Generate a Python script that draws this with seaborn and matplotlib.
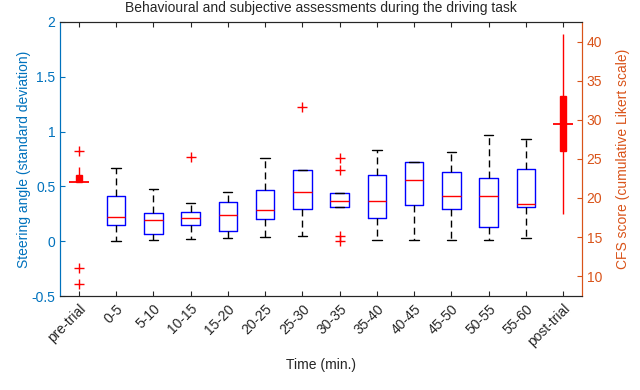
import numpy as np
import pandas as pd
import matplotlib
matplotlib.use("Agg")
import matplotlib.pyplot as plt
import matplotlib.ticker as mticker
import matplotlib.transforms as mtransforms
import seaborn as sns

TIME_BINS = ["pre-trial", "0-5", "5-10", "10-15", "15-20", "20-25", "25-30",
             "30-35", "35-40", "40-45", "45-50", "50-55", "55-60", "post-trial"]

# steering angle SD per 5-min bin
DRIVE_BINS = TIME_BINS[1:-1]
steer_low  = [0.00, 0.01, 0.02, 0.03, 0.035, 0.045, 0.31, 0.01, 0.01, 0.01, 0.015, 0.03]
steer_q1   = [0.145, 0.065, 0.15, 0.095, 0.20, 0.295, 0.31, 0.215, 0.33, 0.295, 0.125, 0.31]
steer_med  = [0.225, 0.195, 0.21, 0.24, 0.285, 0.445, 0.365, 0.365, 0.555, 0.41, 0.41, 0.335]
steer_q3   = [0.41, 0.255, 0.265, 0.355, 0.47, 0.645, 0.44, 0.605, 0.72, 0.63, 0.575, 0.66]
steer_high = [0.665, 0.48, 0.35, 0.445, 0.755, 0.645, 0.44, 0.83, 0.72, 0.81, 0.97, 0.935]

steer_out_bin = ["10-15", "25-30", "30-35", "30-35", "30-35", "30-35"]
steer_out_val = [0.765, 1.22, 0.755, 0.645, 0.045, 0.0]

# CFS questionnaire before / after the drive
CFS_BINS = ["pre-trial", "post-trial"]
cfs_low  = [22, 18]
cfs_q1   = [22, 26]
cfs_med  = [22, 29.5]
cfs_q3   = [23, 33]
cfs_high = [24, 41]

cfs_out_bin = ["pre-trial", "pre-trial", "pre-trial"]
cfs_out_val = [26, 11, 9]

LEFT_C  = "#0072BD"
RIGHT_C = "#D95319"
AX_C    = "#262626"


def five_number_frame(bins, *cols):
    # five points per bin -> quartiles land exactly on q1/median/q3 (linear percentiles)
    vals = np.column_stack(cols).ravel()
    return pd.DataFrame({"bin": np.repeat(bins, len(cols)), "value": vals})


sns.set_style("ticks")
plt.rcParams["font.family"] = ["Liberation Sans", "DejaVu Sans"]
plt.rcParams["font.size"] = 10

fig, ax = plt.subplots(figsize=(6.4, 3.9), dpi=100)
fig.subplots_adjust(left=0.094, right=0.909, top=0.944, bottom=0.241)
ax2 = ax.twinx()

steer_df = five_number_frame(DRIVE_BINS, steer_low, steer_q1, steer_med, steer_q3, steer_high)
sns.boxplot(data=steer_df, x="bin", y="value", order=TIME_BINS, whis=np.inf,
            width=0.5, fill=False, linewidth=1, ax=ax,
            boxprops=dict(color="blue"),
            medianprops=dict(color="red"),
            whiskerprops=dict(color="black", linestyle=(0, (5, 3))),
            capprops=dict(color="black"))
sns.stripplot(x=steer_out_bin, y=steer_out_val, order=TIME_BINS, jitter=False,
              marker="+", color="red", size=7, linewidth=1, ax=ax)

cfs_df = five_number_frame(CFS_BINS, cfs_low, cfs_q1, cfs_med, cfs_q3, cfs_high)
sns.boxplot(data=cfs_df, x="bin", y="value", order=TIME_BINS, whis=np.inf,
            width=0.16, fill=True, color="red", linecolor="red", saturation=1,
            linewidth=1, ax=ax2,
            medianprops=dict(visible=False),
            capprops=dict(visible=False))
sns.stripplot(x=CFS_BINS, y=cfs_med, order=TIME_BINS, jitter=False,
              marker="_", color="red", size=14, linewidth=1.3, ax=ax2)
sns.stripplot(x=cfs_out_bin, y=cfs_out_val, order=TIME_BINS, jitter=False,
              marker="+", color="red", size=7, linewidth=1, ax=ax2)

# left axis: steering
ax.set_ylim(-0.5, 2)
ax.set_yticks([-0.5, 0, 0.5, 1, 1.5, 2])
ax.yaxis.set_major_formatter(mticker.FormatStrFormatter("%g"))
ax.set_xlim(-0.5, len(TIME_BINS) - 0.5)
ax.set_xticks(range(len(TIME_BINS)))
ax.set_xticklabels(TIME_BINS, rotation=45, ha="right", rotation_mode="anchor")
# matlab puts the end of each rotated label a little right of / below its tick
shift = mtransforms.ScaledTranslation(0.09, -0.05, fig.dpi_scale_trans)
for lbl in ax.get_xticklabels():
    lbl.set_transform(lbl.get_transform() + shift)
ax.set_ylabel("Steering angle (standard deviation)", color=LEFT_C, fontsize=10, labelpad=0)
ax.set_xlabel("Time (min.)", color=AX_C, fontsize=10, labelpad=6)
ax.set_title("Behavioural and subjective assessments during the driving task",
             color=AX_C, fontsize=10, pad=7)
ax.tick_params(axis="y", colors=LEFT_C, direction="in", length=3.5, labelsize=10)
ax.tick_params(axis="x", colors=AX_C, direction="in", length=3.5, top=True,
               labelsize=10, pad=4)

# right axis: CFS
ax2.set_ylim(7.45, 42.55)
ax2.set_yticks(range(10, 41, 5))
ax2.set_ylabel("CFS score (cumulative Likert scale)", color=RIGHT_C, fontsize=10,
               rotation=90, labelpad=10)
ax2.tick_params(axis="y", colors=RIGHT_C, direction="in", length=3.5, labelsize=10)
ax2.set_xlabel("")

for a in (ax, ax2):
    for s in a.spines.values():
        s.set_linewidth(0.8)
    a.spines["top"].set_color(AX_C)
    a.spines["bottom"].set_color(AX_C)
    a.spines["left"].set_color(LEFT_C)
    a.spines["right"].set_color(RIGHT_C)

fig.savefig("out.png", dpi=100)
